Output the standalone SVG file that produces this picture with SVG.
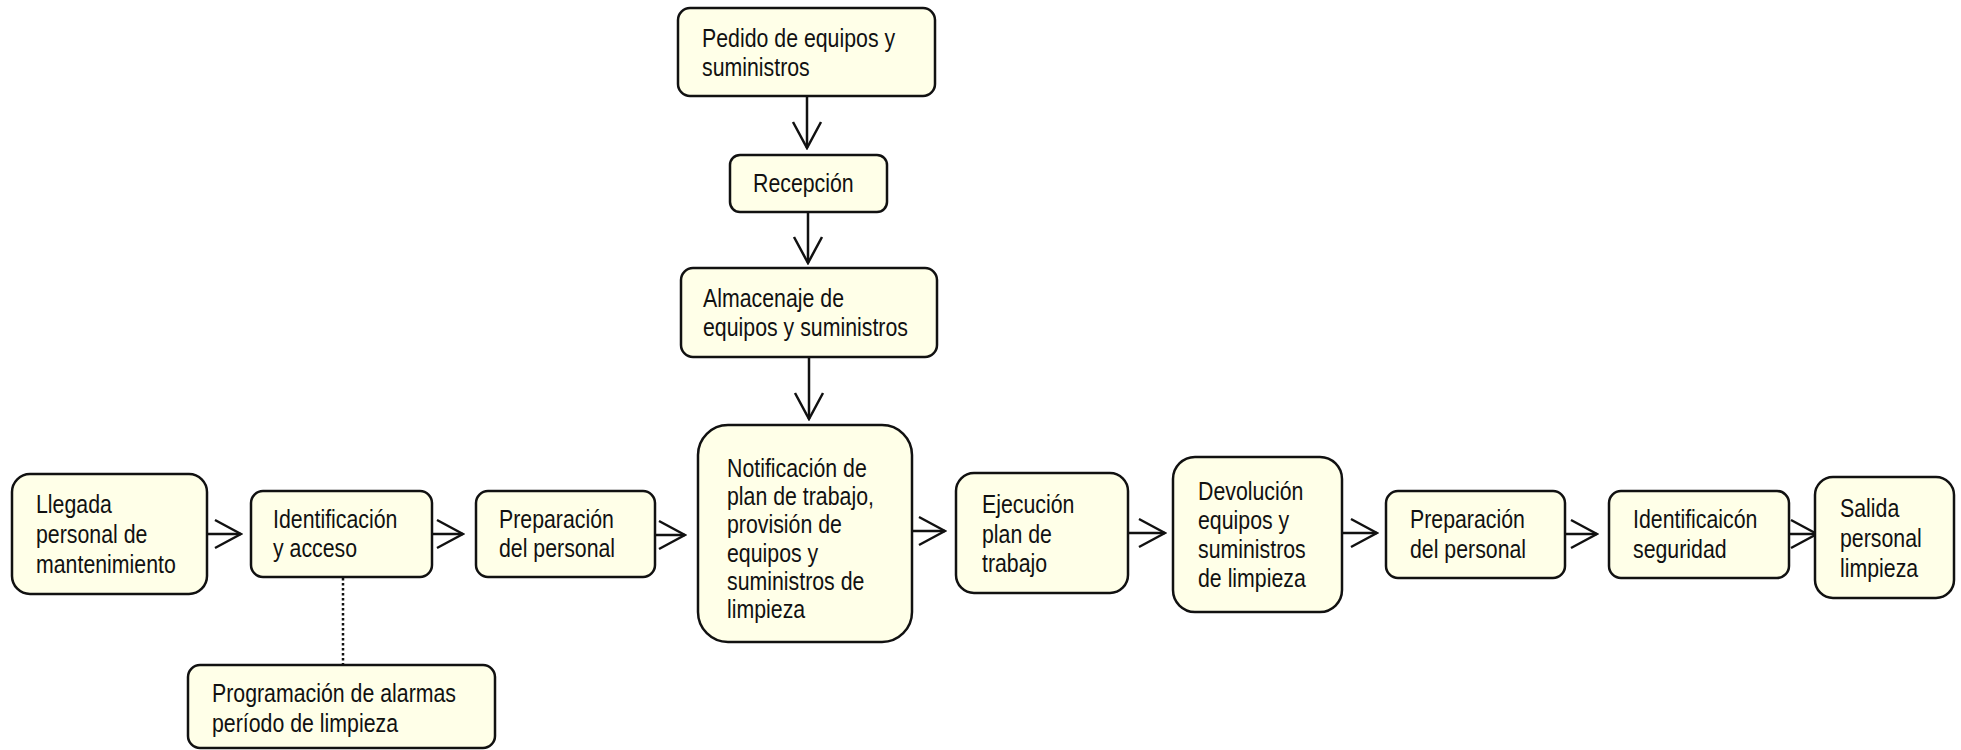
<svg xmlns="http://www.w3.org/2000/svg" width="1961" height="750" viewBox="0 0 1961 750">
<style>
.box{fill:#FFFFE8;stroke:#111;stroke-width:2.5}
.t{font-family:"Liberation Sans",Arial,sans-serif;font-size:26px;fill:#111}
.c{fill:none;stroke:#111;stroke-width:2.5}
.d{fill:none;stroke:#111;stroke-width:2.5;stroke-dasharray:2.5 2.5}
</style>
<defs>
<marker id="ah" viewBox="0 0 30 32" refX="28" refY="16" markerWidth="30" markerHeight="32" markerUnits="userSpaceOnUse" orient="auto">
<path d="M2,2 L28,16 L2,30" fill="none" stroke="#111" stroke-width="2.5"/>
</marker>
</defs>
<rect width="1961" height="750" fill="#fff"/>
<g id="connectors">
<line class="c" x1="807" y1="96" x2="807" y2="148" marker-end="url(#ah)"/>
<line class="c" x1="808" y1="212" x2="808" y2="263" marker-end="url(#ah)"/>
<line class="c" x1="809" y1="357" x2="809" y2="419" marker-end="url(#ah)"/>
<line class="c" x1="207" y1="534" x2="241" y2="534" marker-end="url(#ah)"/>
<line class="c" x1="432" y1="534" x2="463" y2="534" marker-end="url(#ah)"/>
<line class="c" x1="655" y1="535" x2="685" y2="535" marker-end="url(#ah)"/>
<line class="c" x1="912" y1="531" x2="945" y2="531" marker-end="url(#ah)"/>
<line class="c" x1="1128" y1="533" x2="1165" y2="533" marker-end="url(#ah)"/>
<line class="c" x1="1342" y1="533" x2="1377" y2="533" marker-end="url(#ah)"/>
<line class="c" x1="1565" y1="534" x2="1597" y2="534" marker-end="url(#ah)"/>
<line class="c" x1="1788" y1="534" x2="1817" y2="534" marker-end="url(#ah)"/>
<line class="d" x1="343" y1="578" x2="343" y2="665"/>
</g>
<g id="pedido"><rect class="box" x="678" y="8" width="257" height="88" rx="12"/>
<g transform="translate(702,0) scale(0.82,1)"><text class="t" y="47">Pedido de equipos y</text><text class="t" y="76">suministros</text></g></g>
<g id="recepcion"><rect class="box" x="730" y="155" width="157" height="57" rx="10"/>
<g transform="translate(753,0) scale(0.82,1)"><text class="t" y="192">Recepción</text></g></g>
<g id="almacenaje"><rect class="box" x="681" y="268" width="256" height="89" rx="12"/>
<g transform="translate(703,0) scale(0.82,1)"><text class="t" y="307">Almacenaje de</text><text class="t" y="336">equipos y suministros</text></g></g>
<g id="llegada"><rect class="box" x="12" y="474" width="195" height="120" rx="18"/>
<g transform="translate(36,0) scale(0.82,1)"><text class="t" y="513">Llegada</text><text class="t" y="543">personal de</text><text class="t" y="573">mantenimiento</text></g></g>
<g id="identificacion"><rect class="box" x="251" y="491" width="181" height="86" rx="12"/>
<g transform="translate(273,0) scale(0.82,1)"><text class="t" y="528">Identificación</text><text class="t" y="557">y acceso</text></g></g>
<g id="preparacion1"><rect class="box" x="476" y="491" width="179" height="86" rx="12"/>
<g transform="translate(499,0) scale(0.82,1)"><text class="t" y="528">Preparación</text><text class="t" y="557">del personal</text></g></g>
<g id="notificacion"><rect class="box" x="698" y="425" width="214" height="217" rx="30"/>
<g transform="translate(727,0) scale(0.82,1)"><text class="t" y="477">Notificación de</text><text class="t" y="505">plan de trabajo,</text><text class="t" y="533">provisión de</text><text class="t" y="562">equipos y</text><text class="t" y="590">suministros de</text><text class="t" y="618">limpieza</text></g></g>
<g id="ejecucion"><rect class="box" x="956" y="473" width="172" height="120" rx="18"/>
<g transform="translate(982,0) scale(0.82,1)"><text class="t" y="513">Ejecución</text><text class="t" y="543">plan de</text><text class="t" y="572">trabajo</text></g></g>
<g id="devolucion"><rect class="box" x="1173" y="457" width="169" height="155" rx="22"/>
<g transform="translate(1198,0) scale(0.82,1)"><text class="t" y="500">Devolución</text><text class="t" y="529">equipos y</text><text class="t" y="558">suministros</text><text class="t" y="587">de limpieza</text></g></g>
<g id="preparacion2"><rect class="box" x="1386" y="491" width="179" height="87" rx="12"/>
<g transform="translate(1410,0) scale(0.82,1)"><text class="t" y="528">Preparación</text><text class="t" y="558">del personal</text></g></g>
<g id="identificacion2"><rect class="box" x="1609" y="491" width="180" height="87" rx="12"/>
<g transform="translate(1633,0) scale(0.82,1)"><text class="t" y="528">Identificaicón</text><text class="t" y="558">seguridad</text></g></g>
<g id="salida"><rect class="box" x="1815" y="477" width="139" height="121" rx="18"/>
<g transform="translate(1840,0) scale(0.82,1)"><text class="t" y="517">Salida</text><text class="t" y="547">personal</text><text class="t" y="577">limpieza</text></g></g>
<g id="programacion"><rect class="box" x="188" y="665" width="307" height="83" rx="12"/>
<g transform="translate(212,0) scale(0.82,1)"><text class="t" y="702">Programación de alarmas</text><text class="t" y="732">período de limpieza</text></g></g>
</svg>
